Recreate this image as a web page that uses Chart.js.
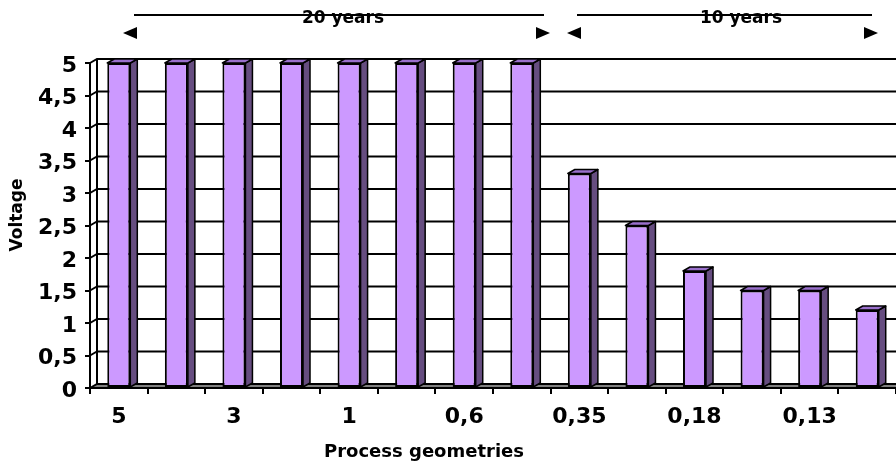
<!DOCTYPE html>
<html>
<head>
<meta charset="utf-8">
<script src="https://cdn.jsdelivr.net/npm/chart.js@4.4.1/dist/chart.umd.min.js"></script>
<style>
  html, body { margin: 0; padding: 0; background: #fff; overflow: hidden; }
  canvas { display: block; }
</style>
</head>
<body>
<canvas id="chart" width="896" height="463"></canvas>
<script>
// Process geometries (µm) and their supply voltages
const geometries = ['5', '4', '3', '2', '1', '0,8', '0,6', '0,5', '0,35', '0,25', '0,18', '0,15', '0,13', '0,09'];
const voltages   = [5, 5, 5, 5, 5, 5, 5, 5, 3.3, 2.5, 1.8, 1.5, 1.5, 1.2];
const voltageAxis = { min: 0, max: 5, step: 0.5 };

// Period bracket captions above the plot
const periodLabels = ['20 years', '10 years'];

const FONT = 'DejaVu Sans';
const DX = 7, DY = 4;          // depth offset of the 3D walls and columns
const FRONT = '#cc99ff', SIDE = '#664d80', TOP = '#9a70cc';

Chart.defaults.font.family = FONT;
Chart.defaults.color = '#000';

// Back wall gridlines, left side wall and floor
const walls = {
  id: 'walls',
  beforeDatasetsDraw(chart) {
    const { ctx, chartArea: a, scales: { y } } = chart;
    const y0 = y.getPixelForValue(voltageAxis.min);
    const yTop = y.getPixelForValue(voltageAxis.max);
    ctx.save();
    ctx.fillStyle = '#808080';
    ctx.beginPath();
    ctx.moveTo(a.left, y0);
    ctx.lineTo(a.left + DX, y0 - DY);
    ctx.lineTo(a.right, y0 - DY);
    ctx.lineTo(a.right, y0);
    ctx.closePath();
    ctx.fill();
    ctx.strokeStyle = '#000';
    ctx.lineWidth = 2;
    y.ticks.forEach(t => {
      const p = y.getPixelForValue(t.value);
      ctx.beginPath();
      ctx.moveTo(a.left, p);
      ctx.lineTo(a.left + DX, p - DY);
      ctx.lineTo(a.right, p - DY);
      ctx.stroke();
    });
    ctx.beginPath();
    ctx.moveTo(a.left + DX, yTop - DY);
    ctx.lineTo(a.left + DX, y0 - DY);
    ctx.stroke();
    ctx.beginPath();
    ctx.moveTo(a.left, y0);
    ctx.lineTo(a.right, y0);
    ctx.stroke();
    ctx.restore();
  },
  // side and top faces of each column
  afterDatasetsDraw(chart) {
    const { ctx } = chart;
    ctx.save();
    ctx.strokeStyle = '#000';
    ctx.lineWidth = 1.5;
    ctx.lineJoin = 'round';
    chart.getDatasetMeta(0).data.forEach(bar => {
      const { x, y, base, width } = bar.getProps(['x', 'y', 'base', 'width'], true);
      const l = x - width / 2, r = x + width / 2;
      ctx.fillStyle = SIDE;
      ctx.beginPath();
      ctx.moveTo(r, y);
      ctx.lineTo(r + DX, y - DY);
      ctx.lineTo(r + DX, base - DY);
      ctx.lineTo(r, base);
      ctx.closePath();
      ctx.fill();
      ctx.stroke();
      ctx.fillStyle = TOP;
      ctx.beginPath();
      ctx.moveTo(l, y);
      ctx.lineTo(l + DX, y - DY);
      ctx.lineTo(r + DX, y - DY);
      ctx.lineTo(r, y);
      ctx.closePath();
      ctx.fill();
      ctx.stroke();
    });
    ctx.restore();
  }
};

// Axis titles and the period brackets
const captions = {
  id: 'captions',
  afterDraw(chart) {
    const { ctx } = chart;
    ctx.save();
    ctx.fillStyle = '#000';
    ctx.strokeStyle = '#000';

    ctx.font = `bold 17px "${FONT}"`;
    ctx.textAlign = 'center';
    ctx.textBaseline = 'middle';
    ctx.translate(18, 215);
    ctx.rotate(-Math.PI / 2);
    ctx.fillText('Voltage', 0, 0);
    ctx.setTransform(1, 0, 0, 1, 0, 0);

    ctx.font = `bold 18px "${FONT}"`;
    ctx.textBaseline = 'alphabetic';
    ctx.fillText('Process geometries', 424, 457);

    const brackets = [
      { text: periodLabels[0], tx: 343, l: 134, r: 544, tipL: 123, tipR: 550 },
      { text: periodLabels[1], tx: 741, l: 577, r: 872, tipL: 567, tipR: 878 }
    ];
    ctx.lineWidth = 2;
    brackets.forEach(b => {
      ctx.beginPath();
      ctx.moveTo(b.l, 15);
      ctx.lineTo(b.r, 15);
      ctx.stroke();
      ctx.beginPath();
      ctx.moveTo(b.tipL, 33);
      ctx.lineTo(b.tipL + 14, 27);
      ctx.lineTo(b.tipL + 14, 39);
      ctx.closePath();
      ctx.fill();
      ctx.beginPath();
      ctx.moveTo(b.tipR, 33);
      ctx.lineTo(b.tipR - 14, 27);
      ctx.lineTo(b.tipR - 14, 39);
      ctx.closePath();
      ctx.fill();
      ctx.font = `bold 17px "${FONT}"`;
      ctx.fillText(b.text, b.tx, 23);
    });
    ctx.restore();
  }
};

new Chart(document.getElementById('chart'), {
  type: 'bar',
  data: {
    labels: geometries,
    datasets: [{
      data: voltages,
      backgroundColor: FRONT,
      borderColor: '#000',
      borderWidth: 2,
      borderSkipped: false,
      categoryPercentage: 1,
      barPercentage: 0.4,
      clip: false
    }]
  },
  options: {
    responsive: false,
    animation: false,
    devicePixelRatio: 1,
    layout: { padding: { top: 63, right: 0, bottom: 0, left: 0 } },
    plugins: { legend: { display: false }, tooltip: { enabled: false } },
    scales: {
      x: {
        offset: true,
        grid: { offset: true, drawOnChartArea: false, color: '#000', lineWidth: 2, tickLength: 6 },
        border: { color: '#000', width: 2 },
        ticks: {
          autoSkip: false,
          maxRotation: 0,
          padding: 10,
          font: { size: 22, weight: 'bold' },
          callback: (v, i) => (i % 2 === 0 ? geometries[i] : '')
        },
        afterFit: s => { s.height = 75; }
      },
      y: {
        min: voltageAxis.min,
        max: voltageAxis.max,
        grid: { drawOnChartArea: false, color: '#000', lineWidth: 2, tickLength: 5 },
        border: { color: '#000', width: 2 },
        ticks: {
          stepSize: voltageAxis.step,
          padding: 8,
          labelOffset: 3,
          font: { size: 22, weight: 'bold' },
          callback: v => String(v).replace('.', ',')
        },
        afterFit: s => { s.width = 90; }
      }
    }
  },
  plugins: [walls, captions]
});
</script>
</body>
</html>
